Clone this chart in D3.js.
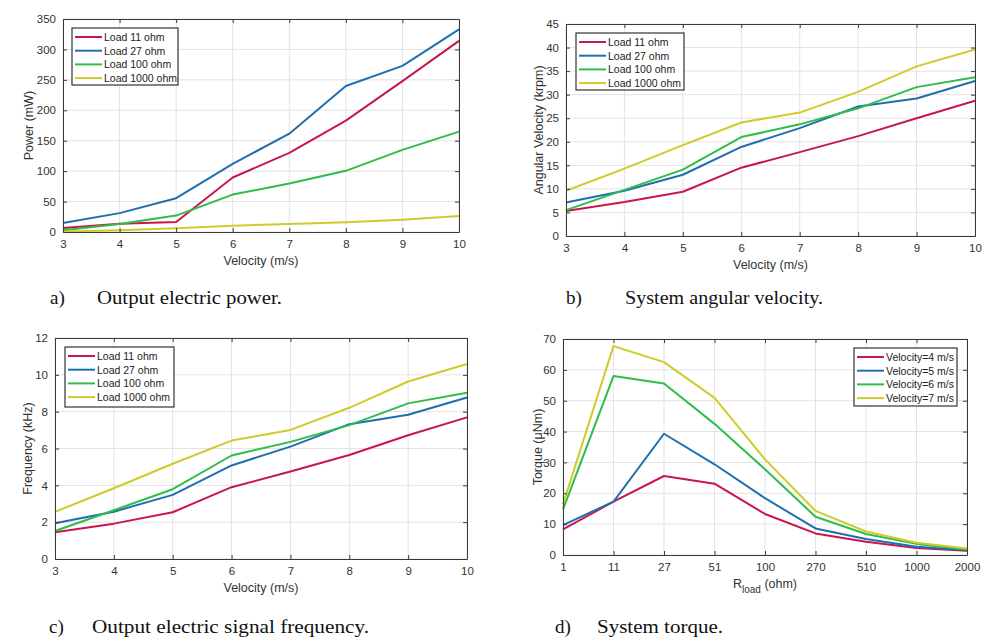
<!DOCTYPE html>
<html><head><meta charset="utf-8">
<script src="https://cdn.jsdelivr.net/npm/d3@7"></script>
<style>
body{margin:0;background:#fff;}
svg{display:block;}
</style></head>
<body>
<svg id="chart" width="998" height="644"></svg>
<script>
// ---------- data ----------
const velocities = [3, 4, 5, 6, 7, 8, 9, 10];
const loadNames = ["Load 11 ohm", "Load 27 ohm", "Load 100 ohm", "Load 1000 ohm"];

const power11   = [6.6, 13.5, 16.5, 89.5, 130, 183, 248, 314];
const power27   = [14.8, 31, 55.5, 112, 161.5, 240, 273, 333];
const power100  = [2.7, 13, 27, 61.5, 79.7, 100.5, 135, 165];
const power1000 = [1, 2.7, 6, 10.4, 13, 16, 20.3, 26.4];

const angVel11   = [5.3, 7.2, 9.4, 14.5, 17.8, 21.2, 25, 28.7];
const angVel27   = [7.1, 9.6, 13, 18.9, 22.9, 27.5, 29.2, 32.9];
const angVel100  = [5.5, 9.8, 14.1, 21, 23.7, 27.1, 31.6, 33.7];
const angVel1000 = [9.6, 14.3, 19.3, 24.1, 26.2, 30.6, 36, 39.6];

const freq11   = [1.45, 1.92, 2.54, 3.9, 4.75, 5.65, 6.72, 7.69];
const freq27   = [1.94, 2.57, 3.48, 5.08, 6.1, 7.32, 7.83, 8.77];
const freq100  = [1.52, 2.65, 3.79, 5.62, 6.36, 7.27, 8.45, 9.03];
const freq1000 = [2.56, 3.84, 5.17, 6.43, 7.01, 8.21, 9.64, 10.59];

const loads = ["1", "11", "27", "51", "100", "270", "510", "1000", "2000"];
const velNames = ["Velocity=4 m/s", "Velocity=5 m/s", "Velocity=6 m/s", "Velocity=7 m/s"];
const torqueV4 = [8.3, 17.3, 25.6, 23.1, 13.3, 7.0, 4.3, 2.3, 1.4];
const torqueV5 = [9.7, 17.3, 39.3, 29.4, 18.4, 8.6, 5.2, 2.7, 1.5];
const torqueV6 = [14.8, 58, 55.6, 42.5, 27.8, 12.4, 6.8, 3.6, 1.8];
const torqueV7 = [16.5, 67.7, 62.5, 50.9, 31, 14.3, 7.6, 4.0, 2.1];

const powerTicks = [0, 50, 100, 150, 200, 250, 300, 350];
const angVelTicks = [0, 5, 10, 15, 20, 25, 30, 35, 40, 45];
const freqTicks = [0, 2, 4, 6, 8, 10, 12];
const torqueTicks = [0, 10, 20, 30, 40, 50, 60, 70];

const colors = ["#c8174a", "#1f6fb0", "#2ebd4a", "#cfcb2a"];

// ---------- drawing ----------
const svg = d3.select("#chart");
const axisColor = "#3a3a3a";
const tickFont = "Liberation Sans, Arial, sans-serif";

function panel(cfg) {
  const g = svg.append("g");
  const {left, right, top, bottom} = cfg.box;
  let x;
  if (cfg.categorical) {
    x = d3.scalePoint().domain(cfg.xs).range([left, right]);
  } else {
    x = d3.scaleLinear().domain([cfg.xs[0], cfg.xs[cfg.xs.length - 1]]).range([left, right]);
  }
  const y = d3.scaleLinear().domain([cfg.yTicks[0], cfg.yTicks[cfg.yTicks.length - 1]]).range([bottom, top]);

  // grid
  const grid = g.append("g");
  grid.selectAll(".gx").data(cfg.xs).enter().append("line")
    .attr("x1", d => x(d)).attr("x2", d => x(d)).attr("y1", top).attr("y2", bottom)
    .attr("stroke", "#e3e3e3").attr("stroke-width", 1);
  grid.selectAll(".gy").data(cfg.yTicks).enter().append("line")
    .attr("y1", d => y(d)).attr("y2", d => y(d)).attr("x1", left).attr("x2", right)
    .attr("stroke", "#e3e3e3").attr("stroke-width", 1);

  // lines
  const line = d3.line().x((d, i) => x(cfg.xs[i])).y(d => y(d));
  cfg.series.forEach((s, i) => {
    g.append("path").datum(s).attr("d", line)
      .attr("fill", "none").attr("stroke", colors[i]).attr("stroke-width", 2)
      .attr("stroke-linejoin", "round");
  });

  // axes (inner ticks, boxed)
  const xAxis = d3.axisBottom(x).tickSizeInner(-4).tickSizeOuter(0).tickPadding(8);
  const xAxisTop = d3.axisTop(x).tickSizeInner(-4).tickSizeOuter(0).tickFormat("");
  const yAxis = d3.axisLeft(y).tickValues(cfg.yTicks).tickFormat(d3.format("d")).tickSizeInner(-4).tickSizeOuter(0).tickPadding(7);
  const yAxisR = d3.axisRight(y).tickValues(cfg.yTicks).tickSizeInner(-4).tickSizeOuter(0).tickFormat("");
  if (!cfg.categorical) {
    xAxis.tickValues(cfg.xs).tickFormat(d3.format("d"));
    xAxisTop.tickValues(cfg.xs);
  }

  const styleAxis = sel => {
    sel.selectAll("path").attr("stroke", axisColor).attr("stroke-width", 1);
    sel.selectAll("line").attr("stroke", axisColor);
    sel.selectAll("text").attr("fill", "#333").attr("font-family", tickFont).attr("font-size", 11.5);
  };
  g.append("g").attr("transform", `translate(0,${bottom})`).call(xAxis).call(styleAxis);
  g.append("g").attr("transform", `translate(0,${top})`).call(xAxisTop).call(styleAxis);
  g.append("g").attr("transform", `translate(${left},0)`).call(yAxis).call(styleAxis);
  g.append("g").attr("transform", `translate(${right},0)`).call(yAxisR).call(styleAxis);

  // axis labels
  const xl = g.append("text").attr("x", (left + right) / 2).attr("y", cfg.xLabelY)
    .attr("text-anchor", "middle").attr("font-family", tickFont).attr("font-size", 12.5).attr("fill", "#333");
  if (cfg.xLabelSub) {
    xl.append("tspan").text(cfg.xLabel[0]);
    xl.append("tspan").text(cfg.xLabelSub).attr("font-size", 10).attr("dy", 5);
    xl.append("tspan").text(cfg.xLabel[1]).attr("dy", -5);
  } else {
    xl.text(cfg.xLabel);
  }
  g.append("text").attr("transform", `translate(${cfg.yLabelX},${(top + bottom) / 2}) rotate(-90)`)
    .attr("text-anchor", "middle").attr("font-family", tickFont).attr("font-size", 12.5).attr("fill", "#333")
    .text(cfg.yLabel);

  // legend
  const L = cfg.legend;
  const lg = g.append("g");
  lg.append("rect").attr("x", L.x).attr("y", L.y).attr("width", L.w).attr("height", L.h)
    .attr("fill", "#fff").attr("stroke", "#333").attr("stroke-width", 1.2);
  cfg.names.forEach((n, i) => {
    const ry = L.y + 9 + i * 13.7;
    lg.append("line").attr("x1", L.x + 3).attr("x2", L.x + 30).attr("y1", ry).attr("y2", ry)
      .attr("stroke", colors[i]).attr("stroke-width", 2);
    lg.append("text").attr("x", L.x + 32).attr("y", ry + 4).text(n)
      .attr("font-family", tickFont).attr("font-size", 10.5).attr("fill", "#222");
  });

  // caption
  const serif = "Liberation Serif, Times New Roman, serif";
  svg.append("text").attr("x", cfg.capLetterX).attr("y", cfg.capY)
    .attr("font-family", serif).attr("font-size", 19).attr("fill", "#111")
    .text(cfg.capLetter);
  svg.append("text").attr("x", cfg.capX).attr("y", cfg.capY)
    .attr("font-family", serif).attr("font-size", 19).attr("fill", "#111")
    .attr("textLength", cfg.capW).attr("lengthAdjust", "spacingAndGlyphs").text(cfg.caption);
}

panel({
  box: {left: 63, right: 459, top: 19, bottom: 232},
  xs: velocities, yTicks: powerTicks,
  series: [power11, power27, power100, power1000], names: loadNames,
  xLabel: "Velocity (m/s)", xLabelY: 265, yLabel: "Power (mW)", yLabelX: 33,
  legend: {x: 72, y: 28, w: 106, h: 57},
  capLetter: "a)", capLetterX: 50, capX: 97, capW: 185, capY: 304, caption: "Output electric power."
});
panel({
  box: {left: 566, right: 975, top: 24, bottom: 236},
  xs: velocities, yTicks: angVelTicks,
  series: [angVel11, angVel27, angVel100, angVel1000], names: loadNames,
  xLabel: "Velocity (m/s)", xLabelY: 269, yLabel: "Angular Velocity (krpm)", yLabelX: 543,
  legend: {x: 576, y: 33, w: 108, h: 57},
  capLetter: "b)", capLetterX: 566, capX: 625, capW: 198, capY: 304, caption: "System angular velocity."
});
panel({
  box: {left: 55, right: 467, top: 338, bottom: 559},
  xs: velocities, yTicks: freqTicks,
  series: [freq11, freq27, freq100, freq1000], names: loadNames,
  xLabel: "Velocity (m/s)", xLabelY: 592, yLabel: "Frequency (kHz)", yLabelX: 32,
  legend: {x: 65, y: 347, w: 109, h: 60},
  capLetter: "c)", capLetterX: 49, capX: 92, capW: 277, capY: 633, caption: "Output electric signal frequency."
});
panel({
  box: {left: 563, right: 967, top: 339, bottom: 555},
  xs: loads, categorical: true, yTicks: torqueTicks,
  series: [torqueV4, torqueV5, torqueV6, torqueV7], names: velNames,
  xLabel: ["R", " (ohm)"], xLabelSub: "load", xLabelY: 588, yLabel: "Torque (\u03BCNm)", yLabelX: 542,
  legend: {x: 854, y: 348, w: 103, h: 58},
  capLetter: "d)", capLetterX: 555, capX: 597, capW: 126, capY: 633, caption: "System torque."
});
</script>
</body></html>
